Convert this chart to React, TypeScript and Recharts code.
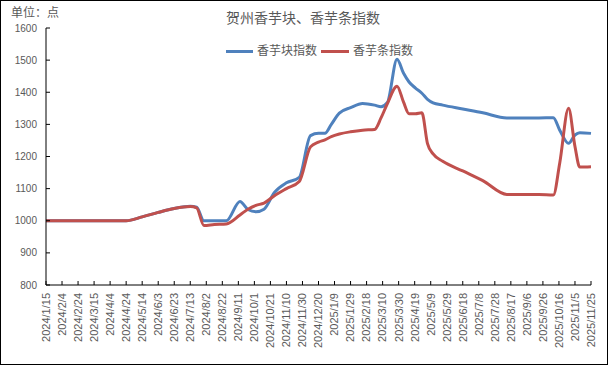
import { LineChart, Line, XAxis, YAxis } from "recharts";

const DATES = [
  "2024/1/15", "2024/2/4", "2024/2/24", "2024/3/15", "2024/4/4", "2024/4/24",
  "2024/5/14", "2024/6/3", "2024/6/23", "2024/7/13", "2024/7/21", "2024/7/30",
  "2024/8/12", "2024/8/27", "2024/9/13", "2024/9/23", "2024/10/3", "2024/10/13",
  "2024/10/26", "2024/11/10", "2024/11/26", "2024/12/10", "2024/12/20", "2024/12/28",
  "2025/1/5", "2025/1/15", "2025/1/29", "2025/2/13", "2025/2/28", "2025/3/8",
  "2025/3/16", "2025/3/28", "2025/4/5", "2025/4/12", "2025/4/20", "2025/4/28",
  "2025/5/5", "2025/5/12", "2025/5/24", "2025/6/18", "2025/7/13", "2025/8/12",
  "2025/9/1", "2025/9/21", "2025/10/9", "2025/10/17", "2025/10/28", "2025/11/5",
  "2025/11/11", "2025/11/25",
];

// 香芋块指数
const BLOCK = [
  1000, 1000, 1000, 1000, 1000, 1000,
  1012, 1026, 1038, 1045, 1042, 1000,
  1000, 1000, 1060, 1035, 1028, 1036,
  1088, 1118, 1135, 1265, 1272, 1272,
  1300, 1335, 1352, 1365, 1360, 1355,
  1368, 1503, 1460, 1432, 1413, 1397,
  1378, 1367, 1360, 1348, 1336, 1320,
  1320, 1320, 1321, 1282, 1241, 1267,
  1274, 1272,
];

// 香芋条指数
const STRIP = [
  1000, 1000, 1000, 1000, 1000, 1000,
  1012, 1026, 1038, 1044, 1040, 985,
  988, 990, 1018, 1036, 1048, 1055,
  1078, 1100, 1122, 1230, 1245, 1252,
  1262, 1270, 1277, 1282, 1284, 1320,
  1365, 1419, 1370, 1333, 1333, 1336,
  1240, 1208, 1185, 1155, 1125, 1082,
  1082, 1082, 1080, 1180, 1350, 1231,
  1167, 1168,
];

const X_TICKS = [
  "2024/1/15", "2024/2/4", "2024/2/24", "2024/3/15", "2024/4/4", "2024/4/24",
  "2024/5/14", "2024/6/3", "2024/6/23", "2024/7/13", "2024/8/2", "2024/8/22",
  "2024/9/11", "2024/10/1", "2024/10/21", "2024/11/10", "2024/11/30", "2024/12/20",
  "2025/1/9", "2025/1/29", "2025/2/18", "2025/3/10", "2025/3/30", "2025/4/19",
  "2025/5/9", "2025/5/29", "2025/6/18", "2025/7/8", "2025/7/28", "2025/8/17",
  "2025/9/6", "2025/9/26", "2025/10/16", "2025/11/5", "2025/11/25",
];

const Y_TICKS = [800, 900, 1000, 1100, 1200, 1300, 1400, 1500, 1600];

const BLUE = "#4f81bd";
const RED = "#c0504d";
const TEXT = "#595959";
const FONT = "'Liberation Sans', Arial, 'Noto Sans CJK SC', sans-serif";

const toDay = (s: string) => {
  const [y, m, d] = s.split("/").map(Number);
  return Date.UTC(y, m - 1, d) / 86400000;
};

const labelByDay: Record<number, string> = {};
X_TICKS.forEach((s) => (labelByDay[toDay(s)] = s));

const data = DATES.map((d, i) => ({
  t: toDay(d),
  block: BLOCK[i],
  strip: STRIP[i],
}));

const XTick = (props: any) => {
  const { x, y, payload } = props;
  return (
    <g transform={`translate(${x},${y})`}>
      <text
        transform="rotate(-90)"
        textAnchor="end"
        dy="0.35em"
        fill={TEXT}
        fontSize={11}
        fontFamily={FONT}
      >
        {labelByDay[payload.value]}
      </text>
    </g>
  );
};

export default function App() {
  const t0 = toDay(X_TICKS[0]);
  const t1 = toDay(X_TICKS[X_TICKS.length - 1]);
  return (
    <div
      style={{
        position: "absolute",
        left: 0,
        top: 0,
        width: 608,
        height: 365,
        background: "#fff",
        border: "1px solid #000",
        boxSizing: "border-box",
        fontFamily: FONT,
      }}
    >
      <div
        style={{
          position: "absolute",
          left: 10,
          top: 4,
          fontSize: 12,
          color: TEXT,
          lineHeight: "16px",
          whiteSpace: "nowrap",
        }}
      >
        单位：点
      </div>
      <div
        style={{
          position: "absolute",
          left: 225,
          top: 8,
          fontSize: 14,
          color: TEXT,
          lineHeight: "18px",
          whiteSpace: "nowrap",
        }}
      >
        贺州香芋块、香芋条指数
      </div>
      <div
        style={{
          position: "absolute",
          left: 225,
          top: 42,
          display: "flex",
          alignItems: "center",
          fontSize: 12,
          color: TEXT,
          lineHeight: "16px",
          whiteSpace: "nowrap",
        }}
      >
        <span style={{ width: 27, height: 3, background: BLUE, marginRight: 4 }} />
        <span>香芋块指数</span>
        <span style={{ width: 28, height: 3, background: RED, margin: "0 4px" }} />
        <span>香芋条指数</span>
      </div>
      <div style={{ position: "absolute", left: -1, top: -1 }}>
        <LineChart
          width={608}
          height={365}
          data={data}
          margin={{ top: 28, right: 17, left: 0, bottom: 0 }}
        >
          <XAxis
            dataKey="t"
            type="number"
            domain={[t0, t1]}
            ticks={X_TICKS.map(toDay)}
            interval={0}
            height={80}
            tick={<XTick />}
            tickSize={-4}
            tickMargin={12}
            axisLine={{ stroke: "#000" }}
            tickLine={{ stroke: "#000" }}
          />
          <YAxis
            domain={[800, 1600]}
            ticks={Y_TICKS}
            interval={0}
            width={46}
            tickSize={-4}
            tickMargin={13}
            tick={{ fill: TEXT, fontSize: 10, fontFamily: FONT }}
            axisLine={{ stroke: "#000" }}
            tickLine={{ stroke: "#000" }}
          />
          <Line
            type="monotone"
            dataKey="block"
            name="香芋块指数"
            stroke={BLUE}
            strokeWidth={3}
            dot={false}
            isAnimationActive={false}
          />
          <Line
            type="monotone"
            dataKey="strip"
            name="香芋条指数"
            stroke={RED}
            strokeWidth={3}
            dot={false}
            isAnimationActive={false}
          />
        </LineChart>
      </div>
    </div>
  );
}
